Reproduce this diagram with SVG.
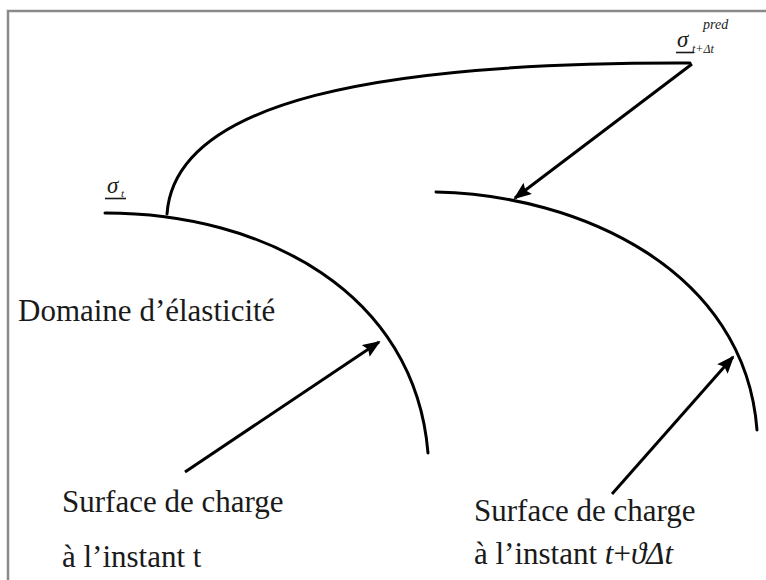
<svg xmlns="http://www.w3.org/2000/svg" width="766" height="580" viewBox="0 0 766 580">
<style>
.frame{fill:none;stroke:#8a8a8a;stroke-width:2.5}
.curve{fill:none;stroke:#000;stroke-width:3;stroke-linecap:round}
.arrow{fill:none;stroke:#000;stroke-width:3}
.lbl{font-family:"Liberation Serif","Times New Roman",serif;font-size:31px;fill:#1a1a1a}
.math{font-family:"Liberation Serif","Times New Roman",serif;font-style:italic;fill:#1a1a1a}
.ul{stroke:#1a1a1a;stroke-width:1.6}
</style>
<defs>
<marker id="ah" markerUnits="userSpaceOnUse" markerWidth="18" markerHeight="14" viewBox="0 0 18 14" refX="16" refY="7" orient="auto">
<path d="M0,0 L18,7 L0,14 L3,7 z" fill="#000"/>
</marker>
</defs>
<rect width="766" height="580" fill="#fff"/>
<path class="frame" d="M8,580 L8,11 L766,11"/>
<g id="surface-t">
<path class="curve" d="M105,213 C265,213 415,293 428,453"/>
</g>
<g id="surface-t-dt">
<path class="curve" d="M436,192 C580,195 745,270 757,430"/>
</g>
<g id="connectors">
<path class="curve" d="M167,214 C175,100 380,62 690,63"/>
<path class="arrow" d="M692,64 L515,198" marker-end="url(#ah)"/>
<path class="arrow" d="M185,472 L379,342" marker-end="url(#ah)"/>
<path class="arrow" d="M612,494 L733,357" marker-end="url(#ah)"/>
</g>
<g id="sigma-t">
<text class="math" x="107" y="193" font-size="23">σ</text>
<text class="math" x="121" y="197" font-size="11">t</text>
<line class="ul" x1="105" y1="198.5" x2="126" y2="198.5"/>
</g>
<g id="sigma-pred">
<text class="math" x="677" y="47" font-size="23">σ</text>
<text class="math" x="692" y="53" font-size="12">t+Δt</text>
<text class="math" x="703" y="29" font-size="14">pred</text>
<line class="ul" x1="676" y1="52.5" x2="694" y2="52.5"/>
</g>
<g id="label-domaine">
<text class="lbl" x="18" y="321">Domaine d’élasticité</text>
</g>
<g id="label-surface-t">
<text class="lbl" x="62" y="512">Surface de charge</text>
<text class="lbl" x="62" y="567">à l’instant t</text>
</g>
<g id="label-surface-t-dt">
<text class="lbl" x="474" y="521">Surface de charge</text>
<text class="lbl" x="474" y="564">à l’instant <tspan font-style="italic">t</tspan>+<tspan font-style="italic">ϑΔt</tspan></text>
</g>
</svg>
